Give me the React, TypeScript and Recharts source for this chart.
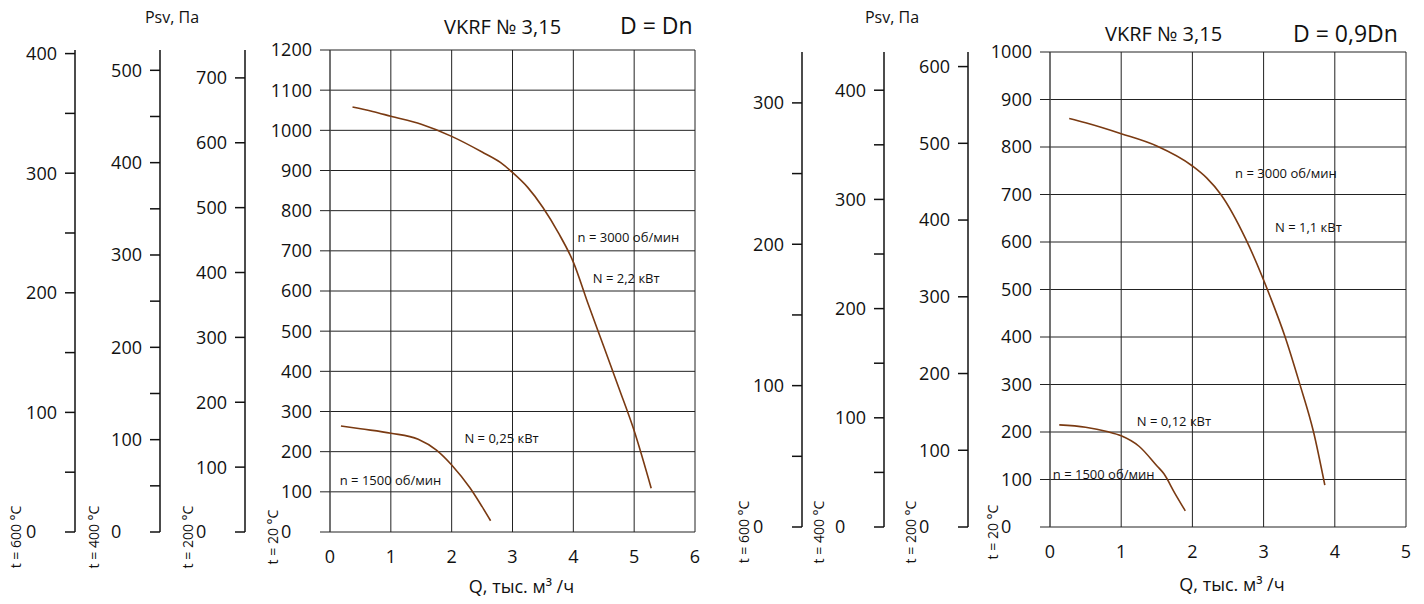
import { LineChart, Line, XAxis, YAxis, CartesianGrid, ReferenceDot } from 'recharts';

// D = Dn panel
const qTicksDn = [0, 1, 2, 3, 4, 5, 6];
const pTicksDn = [0, 100, 200, 300, 400, 500, 600, 700, 800, 900, 1000, 1100, 1200];
const t200TicksDn = [0, 100, 200, 300, 400, 500, 600, 700];
const t400TicksDn = [0, 50, 100, 150, 200, 250, 300, 350, 400, 450, 500];
const t600TicksDn = [0, 50, 100, 150, 200, 250, 300, 350, 400];
const domainsDn = { main: 1200, t200: 743, t400: 522, t600: 403 };

const curve3000Dn = [
  { q: 0.37, p: 1058 }, { q: 0.7, p: 1047 }, { q: 1.0, p: 1035 }, { q: 1.5, p: 1015 },
  { q: 2.0, p: 985 }, { q: 2.5, p: 946 }, { q: 2.8, p: 920 }, { q: 3.0, p: 895 },
  { q: 3.25, p: 858 }, { q: 3.5, p: 808 }, { q: 3.75, p: 746 }, { q: 4.0, p: 672 },
  { q: 4.25, p: 565 }, { q: 4.5, p: 462 }, { q: 4.75, p: 358 }, { q: 5.0, p: 252 },
  { q: 5.28, p: 109 },
];
const curve1500Dn = [
  { q: 0.18, p: 264 }, { q: 0.5, p: 257 }, { q: 1.0, p: 246 }, { q: 1.45, p: 231 },
  { q: 1.75, p: 204 }, { q: 2.0, p: 167 }, { q: 2.3, p: 110 }, { q: 2.5, p: 63 },
  { q: 2.64, p: 28 },
];
const notesDn = [
  { q: 4.07, p: 734, text: 'n = 3000 об/мин' },
  { q: 4.32, p: 632, text: 'N = 2,2 кВт' },
  { q: 2.21, p: 233, text: 'N = 0,25 кВт' },
  { q: 0.16, p: 129, text: 'n = 1500 об/мин' },
];

// D = 0,9Dn panel
const qTicks09 = [0, 1, 2, 3, 4, 5];
const pTicks09 = [0, 100, 200, 300, 400, 500, 600, 700, 800, 900, 1000];
const t200Ticks09 = [0, 100, 200, 300, 400, 500, 600];
const t400Ticks09 = [0, 50, 100, 150, 200, 250, 300, 350, 400];
const t600Ticks09 = [0, 50, 100, 150, 200, 250, 300];
const domains09 = { main: 1000, t200: 619, t400: 435, t600: 336 };

const curve3000_09 = [
  { q: 0.27, p: 860 }, { q: 0.5, p: 851 }, { q: 1.0, p: 828 }, { q: 1.5, p: 802 },
  { q: 2.0, p: 760 }, { q: 2.2, p: 735 }, { q: 2.4, p: 700 }, { q: 2.75, p: 606 },
  { q: 3.1, p: 482 }, { q: 3.3, p: 401 }, { q: 3.5, p: 305 }, { q: 3.7, p: 201 },
  { q: 3.86, p: 88 },
];
const curve1500_09 = [
  { q: 0.13, p: 215 }, { q: 0.5, p: 210 }, { q: 0.8, p: 201 }, { q: 1.0, p: 192 },
  { q: 1.25, p: 170 }, { q: 1.5, p: 129 }, { q: 1.6, p: 112 }, { q: 1.75, p: 72 },
  { q: 1.9, p: 34 },
];
const notes09 = [
  { q: 2.6, p: 746, text: 'n = 3000 об/мин' },
  { q: 3.16, p: 632, text: 'N = 1,1 кВт' },
  { q: 1.22, p: 224, text: 'N = 0,12 кВт' },
  { q: 0.04, p: 112, text: 'n = 1500 об/мин' },
];

const CURVE = '#7a3a12';
const INK = '#111';
const FONT = "'Open Sans', 'DejaVu Sans', sans-serif";

// y tick: only multiples of 100 get text; "0" sits in the column of 3-digit labels
const renderYTick = (props: any) => {
  const { x, y, payload } = props;
  const v = payload.value;
  if (v % 100 !== 0) return <g />;
  const zero = v === 0;
  return (
    <text x={zero ? x - 31 : x} y={y} dy="0.355em" textAnchor={zero ? 'start' : 'end'}
      fontSize={18} fill={INK}>
      {v}
    </text>
  );
};

const tempLabel = (text: string, off: number) => (props: any) => {
  const vb = props.viewBox || {};
  const cx = vb.x + vb.width - off;
  const cy = vb.y + vb.height + 5;
  return (
    <text x={cx} y={cy} transform={`rotate(-90 ${cx} ${cy})`} textAnchor="middle"
      dominantBaseline="central" fontSize={14} fill={INK}>
      {text}
    </text>
  );
};

const qLabel = (dx: number, dy: number) => (props: any) => {
  const vb = props.viewBox || {};
  return (
    <text x={vb.x + vb.width / 2 + dx} y={vb.y + dy} textAnchor="middle" fontSize={18} fill={INK}>
      Q, тыс. м³ /ч
    </text>
  );
};

const noteLabel = (text: string) => (props: any) => {
  const vb = props.viewBox || {};
  return (
    <text x={vb.x} y={vb.y} dominantBaseline="central" fontSize={13} fill={INK}>
      {text}
    </text>
  );
};

interface PanelProps {
  margin: { top: number; right: number; bottom: number; left: number };
  widths: [number, number, number, number];
  qTicks: number[];
  pTicks: number[];
  t200Ticks: number[];
  t400Ticks: number[];
  t600Ticks: number[];
  domains: { main: number; t200: number; t400: number; t600: number };
  upper: { q: number; p: number }[];
  lower: { q: number; p: number }[];
  notes: { q: number; p: number; text: string }[];
  qdx: number;
  qdy: number;
  offs: [number, number, number, number];
}

function FanPanel(props: PanelProps) {
  const { margin, widths, qTicks, pTicks, domains, notes } = props;
  const auxLine = { stroke: INK, strokeWidth: 1.5 };
  return (
    <LineChart width={712} height={604} margin={margin}>
      <CartesianGrid yAxisId="main" stroke="#222" fill="none" />
      <XAxis type="number" dataKey="q" domain={[0, qTicks[qTicks.length - 1]]} ticks={qTicks}
        allowDataOverflow interval={0} axisLine={false} tickLine={false} tickSize={10}
        tickMargin={8} height={60} tick={{ fill: INK, fontSize: 18 }}
        label={qLabel(props.qdx, props.qdy)} />
      <YAxis yAxisId="main" type="number" domain={[0, domains.main]} ticks={pTicks} interval={0}
        allowDataOverflow width={widths[0]} tickSize={10} tickMargin={8} tick={renderYTick}
        axisLine={{ stroke: '#555' }} tickLine={{ stroke: '#222' }}
        label={tempLabel('t = 20 °C', props.offs[0])} />
      <YAxis yAxisId="t200" type="number" domain={[0, domains.t200]} ticks={props.t200Ticks}
        allowDataOverflow interval={0} width={widths[1]} tickSize={10} tickMargin={8}
        tick={renderYTick} axisLine={auxLine} tickLine={auxLine}
        label={tempLabel('t = 200 °C', props.offs[1])} />
      <YAxis yAxisId="t400" type="number" domain={[0, domains.t400]} ticks={props.t400Ticks}
        allowDataOverflow interval={0} width={widths[2]} tickSize={10} tickMargin={8}
        tick={renderYTick} axisLine={auxLine} tickLine={auxLine}
        label={tempLabel('t = 400 °C', props.offs[2])} />
      <YAxis yAxisId="t600" type="number" domain={[0, domains.t600]} ticks={props.t600Ticks}
        allowDataOverflow interval={0} width={widths[3]} tickSize={10} tickMargin={8}
        tick={renderYTick} axisLine={auxLine} tickLine={auxLine}
        label={tempLabel('t = 600 °C', props.offs[3])} />
      <Line yAxisId="main" data={props.upper} dataKey="p" type="monotone" stroke={CURVE}
        strokeWidth={1.6} dot={false} isAnimationActive={false} />
      <Line yAxisId="main" data={props.lower} dataKey="p" type="monotone" stroke={CURVE}
        strokeWidth={1.6} dot={false} isAnimationActive={false} />
      {notes.map((n) => (
        <ReferenceDot key={n.text} yAxisId="main" x={n.q} y={n.p} r={0} fill="none" stroke="none"
          label={noteLabel(n.text)} />
      ))}
    </LineChart>
  );
}

export default function App() {
  return (
    <div style={{ position: 'absolute', left: 0, top: 0, width: 1424, height: 604, background: '#fff', fontFamily: FONT }}>
      <div style={{ position: 'absolute', left: 0, top: 0 }}>
        <FanPanel margin={{ top: 50, right: 17, bottom: 12, left: 0 }} widths={[85, 85, 85, 75]}
          qTicks={qTicksDn} pTicks={pTicksDn} t200Ticks={t200TicksDn} t400Ticks={t400TicksDn}
          t600Ticks={t600TicksDn} domains={domainsDn} upper={curve3000Dn} lower={curve1500Dn}
          notes={notesDn} qdx={9} qdy={61} offs={[58, 58, 67, 60]} />
      </div>
      <div style={{ position: 'absolute', left: 712, top: 0 }}>
        <FanPanel margin={{ top: 52, right: 18, bottom: 17, left: 10 }} widths={[82, 84, 82, 80]}
          qTicks={qTicks09} pTicks={pTicks09} t200Ticks={t200Ticks09} t400Ticks={t400Ticks09}
          t600Ticks={t600Ticks09} domains={domains09} upper={curve3000_09} lower={curve1500_09}
          notes={notes09} qdx={4} qdy={64} offs={[58, 58, 66, 59]} />
      </div>
      <svg width={1424} height={604} style={{ position: 'absolute', left: 0, top: 0, pointerEvents: 'none' }}>
        <text x={172} y={23} textAnchor="middle" fontSize={16} fill={INK}>Psv, Па</text>
        <text x={444} y={34} fontSize={20} fill={INK}>VKRF № 3,15</text>
        <text x={620} y={34} fontSize={23} fill={INK}>D = Dn</text>
        <text x={892} y={23} textAnchor="middle" fontSize={16} fill={INK}>Psv, Па</text>
        <text x={1105} y={41} fontSize={20} fill={INK}>VKRF № 3,15</text>
        <text x={1293} y={42} fontSize={23} fill={INK}>D = 0,9Dn</text>
      </svg>
    </div>
  );
}
